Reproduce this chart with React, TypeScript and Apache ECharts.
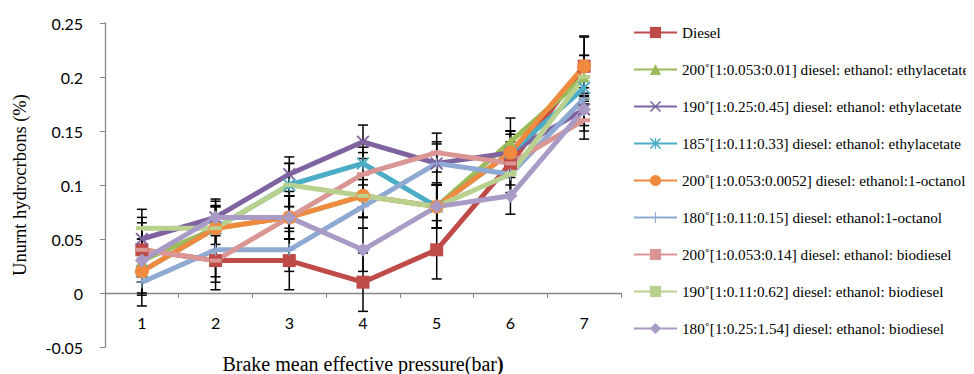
import React, { useEffect, useRef } from "react";
import * as echarts from "echarts";

const categories = ["1", "2", "3", "4", "5", "6", "7"];
const yTicks = { min: -0.05, max: 0.25, interval: 0.05 };

const seriesNames = [
  "Diesel",
  "200˚[1:0.053:0.01] diesel: ethanol: ethylacetate",
  "190˚[1:0.25:0.45] diesel: ethanol: ethylacetate",
  "185˚[1:0.11:0.33] diesel: ethanol: ethylacetate",
  "200˚[1:0.053:0.0052] diesel: ethanol:1-octanol",
  "180˚[1:0.11:0.15] diesel: ethanol:1-octanol",
  "200˚[1:0.053:0.14] diesel: ethanol: biodiesel",
  "190˚[1:0.11:0.62] diesel: ethanol: biodiesel",
  "180˚[1:0.25:1.54] diesel: ethanol: biodiesel",
];

const diesel = [0.04, 0.03, 0.03, 0.01, 0.04, 0.12, 0.21];
const ea200 = [0.03, 0.06, 0.07, 0.09, 0.08, 0.14, 0.2];
const ea190 = [0.05, 0.07, 0.11, 0.14, 0.12, 0.13, 0.17];
const ea185 = [0.02, 0.06, 0.1, 0.12, 0.08, 0.13, 0.19];
const oc200 = [0.02, 0.06, 0.07, 0.09, 0.08, 0.13, 0.21];
const oc180 = [0.01, 0.04, 0.04, 0.08, 0.12, 0.11, 0.18];
const bd200 = [0.04, 0.03, 0.07, 0.11, 0.13, 0.12, 0.16];
const bd190 = [0.06, 0.06, 0.1, 0.09, 0.08, 0.11, 0.2];
const bd180 = [0.03, 0.07, 0.07, 0.04, 0.08, 0.09, 0.17];

const errDiesel = [0.025, 0.027, 0.027, 0.027, 0.027, 0.027, 0.027];
const errEa200 = [0.02, 0.02, 0.02, 0.02, 0.02, 0.022, 0.02];
const errEa190 = [0.02, 0.017, 0.016, 0.0155, 0.018, 0.02, 0.015];
const errEa185 = [0.02, 0.02, 0.02, 0.015, 0.02, 0.02, 0.015];
const errOc200 = [0.022, 0.02, 0.02, 0.02, 0.02, 0.02, 0.028];
const errOc180 = [0.022, 0.03, 0.02, 0.02, 0.02, 0.02, 0.02];
const errBd200 = [0.02, 0.015, 0.02, 0.02, 0.018, 0.02, 0.0175];
const errBd190 = [0.0175, 0.021, 0.02, 0.02, 0.02, 0.02, 0.02];
const errBd180 = [0.02, 0.015, 0.02, 0.02, 0.02, 0.017, 0.02];

const values = [diesel, ea200, ea190, ea185, oc200, oc180, bd200, bd190, bd180];
const errors = [errDiesel, errEa200, errEa190, errEa185, errOc200, errOc180, errBd200, errBd190, errBd180];

const colors = ["#BE4B48", "#9BBB59", "#7F63A1", "#4BACC6", "#F08A3E", "#8FAAD2", "#D99694", "#B9D18E", "#A99BC5"];

const X_PATH = "path://M0,2 L2,0 L10,8 L18,0 L20,2 L12,10 L20,18 L18,20 L10,12 L2,20 L0,18 L8,10 Z";
const STAR_PATH =
  "path://M0,2 L2,0 L9,7 L9,0 L11,0 L11,7 L18,0 L20,2 L13,9 L13,11 L20,18 L18,20 L11,13 L11,20 L9,20 L9,13 L2,20 L0,18 L7,11 L7,9 Z";
const PLUS_PATH = "path://M9,0 L11,0 L11,9 L20,9 L20,11 L11,11 L11,20 L9,20 L9,11 L0,11 L0,9 L9,9 Z";
const DASH_PATH = "path://M0,0 L20,0 L20,4 L0,4 Z";

const symbols = ["rect", "triangle", X_PATH, STAR_PATH, "circle", PLUS_PATH, DASH_PATH, DASH_PATH, "diamond"];
const symbolSizes: any[] = [13, 11, 13, 13, 14, 12, [12, 4], [12, 4], 14];

export default function App() {
  const ref = useRef<HTMLDivElement>(null);
  useEffect(() => {
    if (!ref.current) return;
    const chart = echarts.init(ref.current, undefined, { renderer: "svg" });
    const series: any[] = [];
    values.forEach((vals, i) => {
      series.push({
        type: "line",
        name: seriesNames[i],
        data: vals,
        symbol: symbols[i],
        symbolSize: symbolSizes[i],
        symbolKeepAspect: false,
        lineStyle: { color: colors[i], width: 5 },
        itemStyle: { color: colors[i], borderWidth: 0 },
        z: 2,
      });
      series.push({
        type: "custom",
        name: "err" + i,
        z: 2,
        data: vals.map((v, k) => [k, v, errors[i][k]]),
        encode: { x: 0, y: 1 },
        renderItem: (params: any, api: any) => {
          const x = api.value(0);
          const v = api.value(1);
          const e = api.value(2);
          const top = api.coord([x, v + e]);
          const bot = api.coord([x, v - e]);
          const hw = 5;
          const st = { stroke: "#000", lineWidth: 1.5 };
          return {
            type: "group",
            children: [
              { type: "line", shape: { x1: top[0], y1: top[1], x2: bot[0], y2: bot[1] }, style: st },
              { type: "line", shape: { x1: top[0] - hw, y1: top[1], x2: top[0] + hw, y2: top[1] }, style: st },
              { type: "line", shape: { x1: bot[0] - hw, y1: bot[1], x2: bot[0] + hw, y2: bot[1] }, style: st },
            ],
          };
        },
      });
    });

    chart.setOption({
      animation: false,
      grid: { left: 105, right: 353, top: 23, bottom: 27, containLabel: false, outerBoundsMode: "none" },
      legend: {
        data: seriesNames,
        orient: "vertical",
        left: 633,
        top: 25,
        padding: 0,
        itemWidth: 43,
        itemHeight: 14,
        itemGap: 22,
        textStyle: { fontFamily: "Liberation Serif", fontSize: 15.2, color: "#000" },
      },
      xAxis: {
        type: "category",
        data: categories,
        boundaryGap: true,
        position: "bottom",
        offset: -54,
        axisLine: { onZero: false, lineStyle: { color: "#868686", width: 1.3 } },
        axisTick: { show: true, length: 5, lineStyle: { color: "#868686" } },
        axisLabel: { fontFamily: "Lato", fontSize: 16, color: "#000", margin: 21 },
        name: "{a|Brake mean effective pressure(bar}{b|)}",
        nameLocation: "middle",
        nameGap: 61,
        nameTextStyle: {
          rich: {
            a: { fontFamily: "Liberation Serif", fontSize: 20, color: "#000" },
            b: { fontFamily: "Liberation Serif", fontSize: 20, color: "#000", fontWeight: "bold" },
          },
        },
      },
      yAxis: {
        type: "value",
        min: yTicks.min,
        max: yTicks.max,
        interval: yTicks.interval,
        splitLine: { show: false },
        axisLine: { show: true, onZero: false, lineStyle: { color: "#868686", width: 1.3 } },
        axisTick: { show: true, length: 5, lineStyle: { color: "#868686" } },
        axisLabel: {
          fontFamily: "Lato",
          fontSize: 16,
          color: "#000",
          margin: 22,
          formatter: (v: number) => String(Math.round(v * 100) / 100),
        },
        name: "Unurnt hydrocrbons (%)",
        nameLocation: "middle",
        nameRotate: 90,
        nameGap: 76,
        nameTextStyle: { fontFamily: "Liberation Serif", fontSize: 18.5, color: "#000" },
      },
      series,
    });
    return () => chart.dispose();
  }, []);
  return <div ref={ref} style={{ width: 974, height: 374, marginLeft: -8, marginTop: -8 }} />;
}
